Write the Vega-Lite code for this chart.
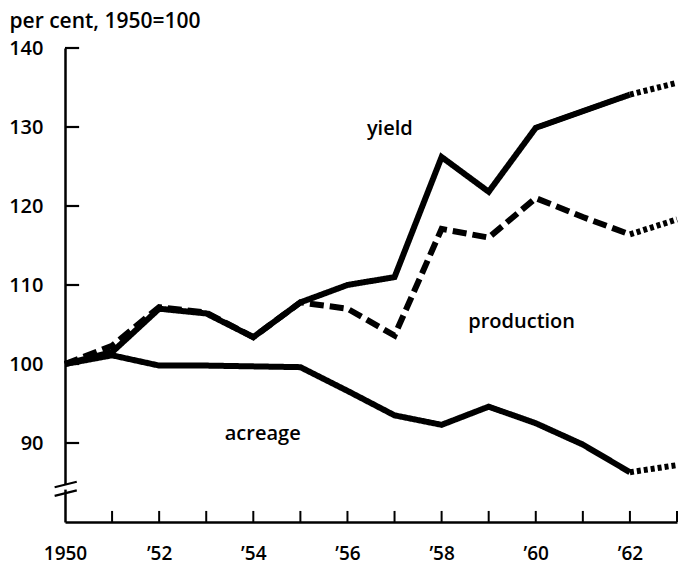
{
  "$schema": "https://vega.github.io/schema/vega-lite/v6.json",
  "width": 612,
  "height": 474,
  "autosize": {"type": "none"},
  "padding": {"left": 65, "top": 48, "right": 3, "bottom": 43},
  "background": "white",
  "config": {
    "view": {"stroke": null},
    "font": "Open Sans",
    "axis": {"grid": false, "domainColor": "black", "ticks": false, "tickSize": 0, "labelColor": "black", "labelFont": "Open Sans", "labelFontWeight": 600, "labelFontSize": 19, "domainWidth": 2.5}
  },
  "datasets": {
    "series": [
      {"series": "yield", "dash": "solid", "year": 1950, "value": 100},
      {"series": "yield", "dash": "solid", "year": 1951, "value": 101.5},
      {"series": "yield", "dash": "solid", "year": 1952, "value": 107},
      {"series": "yield", "dash": "solid", "year": 1953, "value": 106.4},
      {"series": "yield", "dash": "solid", "year": 1954, "value": 103.4},
      {"series": "yield", "dash": "solid", "year": 1955, "value": 107.8},
      {"series": "yield", "dash": "solid", "year": 1956, "value": 110},
      {"series": "yield", "dash": "solid", "year": 1957, "value": 111},
      {"series": "yield", "dash": "solid", "year": 1958, "value": 126.2},
      {"series": "yield", "dash": "solid", "year": 1959, "value": 121.8},
      {"series": "yield", "dash": "solid", "year": 1960, "value": 129.9},
      {"series": "yield", "dash": "solid", "year": 1961, "value": 132},
      {"series": "yield", "dash": "solid", "year": 1962, "value": 134.1},
      {"series": "yield", "dash": "dotted", "year": 1962, "value": 134.1},
      {"series": "yield", "dash": "dotted", "year": 1963, "value": 135.6},
      {"series": "production", "dash": "dashed", "year": 1950, "value": 100},
      {"series": "production", "dash": "dashed", "year": 1951, "value": 102.3},
      {"series": "production", "dash": "dashed", "year": 1952, "value": 107.2},
      {"series": "production", "dash": "dashed", "year": 1953, "value": 106.5},
      {"series": "production", "dash": "dashed", "year": 1954, "value": 103.4},
      {"series": "production", "dash": "dashed", "year": 1955, "value": 107.8},
      {"series": "production", "dash": "dashed", "year": 1956, "value": 107},
      {"series": "production", "dash": "dashed", "year": 1957, "value": 103.6},
      {"series": "production", "dash": "dashed", "year": 1958, "value": 117.1},
      {"series": "production", "dash": "dashed", "year": 1959, "value": 116},
      {"series": "production", "dash": "dashed", "year": 1960, "value": 121},
      {"series": "production", "dash": "dashed", "year": 1961, "value": 118.6},
      {"series": "production", "dash": "dashed", "year": 1962, "value": 116.4},
      {"series": "production", "dash": "dotted", "year": 1962, "value": 116.4},
      {"series": "production", "dash": "dotted", "year": 1963, "value": 118.3},
      {"series": "acreage", "dash": "solid", "year": 1950, "value": 100},
      {"series": "acreage", "dash": "solid", "year": 1951, "value": 101.1},
      {"series": "acreage", "dash": "solid", "year": 1952, "value": 99.8},
      {"series": "acreage", "dash": "solid", "year": 1953, "value": 99.8},
      {"series": "acreage", "dash": "solid", "year": 1954, "value": 99.7},
      {"series": "acreage", "dash": "solid", "year": 1955, "value": 99.6},
      {"series": "acreage", "dash": "solid", "year": 1956, "value": 96.6},
      {"series": "acreage", "dash": "solid", "year": 1957, "value": 93.5},
      {"series": "acreage", "dash": "solid", "year": 1958, "value": 92.3},
      {"series": "acreage", "dash": "solid", "year": 1959, "value": 94.6},
      {"series": "acreage", "dash": "solid", "year": 1960, "value": 92.5},
      {"series": "acreage", "dash": "solid", "year": 1961, "value": 89.8},
      {"series": "acreage", "dash": "solid", "year": 1962, "value": 86.3},
      {"series": "acreage", "dash": "dotted", "year": 1962, "value": 86.3},
      {"series": "acreage", "dash": "dotted", "year": 1963, "value": 87.2}
    ],
    "labels": [
      {"label": "yield", "year": 1956.9, "value": 129.8},
      {"label": "production", "year": 1959.7, "value": 105.3},
      {"label": "acreage", "year": 1954.2, "value": 91.2}
    ],
    "xticks": [
      {"year": 1951}, {"year": 1952}, {"year": 1953}, {"year": 1954}, {"year": 1955}, {"year": 1956},
      {"year": 1957}, {"year": 1958}, {"year": 1959}, {"year": 1960}, {"year": 1961}, {"year": 1962}, {"year": 1963}
    ],
    "yticks": [{"value": 90}, {"value": 100}, {"value": 110}, {"value": 120}, {"value": 130}, {"value": 140}],
    "breakmarks": [
      {"x1": 1949.78, "x2": 1950.25, "y1": 84.4, "y2": 85.1},
      {"x1": 1949.78, "x2": 1950.25, "y1": 83.3, "y2": 84.0}
    ],
    "gap": [{"x": 1950, "y1": 84.1, "y2": 84.8}]
  },
  "layer": [
    {
      "data": {"name": "series"},
      "mark": {"type": "line", "color": "black", "strokeWidth": 6, "strokeCap": "butt", "strokeJoin": "miter", "clip": false},
      "encoding": {
        "x": {
          "field": "year", "type": "quantitative",
          "scale": {"domain": [1950, 1963], "nice": false, "zero": false},
          "axis": {
            "title": null,
            "values": [1950, 1951, 1952, 1953, 1954, 1955, 1956, 1957, 1958, 1959, 1960, 1961, 1962, 1963],
            "labelPadding": 22,
            "labelExpr": "datum.value == 1950 ? '1950' : (datum.value % 2 == 0 ? '\u2019' + (datum.value - 1900) : '')",
            "labelFlush": false,
            "labelOverlap": false
          }
        },
        "y": {
          "field": "value", "type": "quantitative",
          "scale": {"domain": [80, 140], "nice": false, "zero": false},
          "axis": {
            "title": "per cent, 1950=100",
            "titleAngle": 0,
            "titleAlign": "left",
            "titleBaseline": "alphabetic",
            "titleX": -56,
            "titleY": -21,
            "titleFont": "Open Sans",
            "titleFontSize": 21,
            "titleFontWeight": 600,
            "titleColor": "black",
            "values": [90, 100, 110, 120, 130, 140],
            "labelPadding": 22,
            "labelFontSize": 20
          }
        },
        "detail": {"field": "series"},
        "strokeDash": {
          "field": "dash", "type": "nominal",
          "scale": {"domain": ["solid", "dashed", "dotted"], "range": [[1, 0], [14, 6], [4, 3]]},
          "legend": null
        }
      }
    },
    {
      "data": {"name": "xticks"},
      "mark": {"type": "rule", "color": "black", "strokeWidth": 2},
      "encoding": {
        "x": {"field": "year", "type": "quantitative"},
        "y": {"datum": 80},
        "y2": {"datum": 81.4}
      }
    },
    {
      "data": {"name": "yticks"},
      "mark": {"type": "rule", "color": "black", "strokeWidth": 2.2},
      "encoding": {
        "y": {"field": "value", "type": "quantitative"},
        "x": {"datum": 1950},
        "x2": {"datum": 1950.3}
      }
    },
    {
      "data": {"name": "labels"},
      "mark": {"type": "text", "fontSize": 20, "fontWeight": 600, "color": "black", "font": "Open Sans"},
      "encoding": {
        "x": {"field": "year", "type": "quantitative"},
        "y": {"field": "value", "type": "quantitative"},
        "text": {"field": "label"}
      }
    },
    {
      "data": {"name": "gap"},
      "mark": {"type": "rule", "color": "white", "strokeWidth": 6},
      "encoding": {
        "x": {"field": "x", "type": "quantitative"},
        "y": {"field": "y1", "type": "quantitative"},
        "y2": {"field": "y2"}
      }
    },
    {
      "data": {"name": "breakmarks"},
      "mark": {"type": "rule", "color": "black", "strokeWidth": 2.2},
      "encoding": {
        "x": {"field": "x1", "type": "quantitative"},
        "x2": {"field": "x2"},
        "y": {"field": "y1", "type": "quantitative"},
        "y2": {"field": "y2"}
      }
    }
  ]
}
